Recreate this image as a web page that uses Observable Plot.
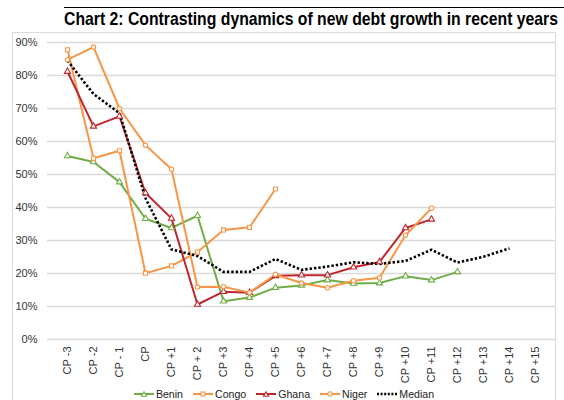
<!DOCTYPE html>
<html>
<head>
<meta charset="utf-8">
<script src="https://cdn.jsdelivr.net/npm/d3@7"></script>
<script src="https://cdn.jsdelivr.net/npm/@observablehq/plot@0.6"></script>
<style>
  html, body { margin: 0; padding: 0; background: #fff; }
  #wrap { position: relative; width: 564px; height: 400px; overflow: hidden; font-family: "Liberation Sans", Arial, sans-serif; }
  #frame { position: absolute; left: 12px; top: 32px; width: 544px; height: 380px; border: 1px solid #d9d9d9; box-sizing: border-box; }
  #rule { position: absolute; left: 64px; top: 7px; right: 0; border-top: 1.5px solid #000; }
  #title { position: absolute; left: 64px; top: 8px; font-family: "Liberation Sans", Arial, sans-serif; font-weight: bold; font-size: 19px; line-height: 21px; color: #000; white-space: nowrap; transform-origin: 0 0; }
  #chart { position: absolute; left: 0; top: 32px; }
  #legend { position: absolute; left: 12px; width: 544px; top: 387px; display: flex; justify-content: center; gap: 10px; font-size: 10.6px; color: #222; line-height: 14px; }
  #legend .item { display: flex; align-items: center; gap: 2px; }
</style>
</head>
<body>
<div id="wrap">
  <div id="frame"></div>
  <div id="rule"></div>
  <div id="title">Chart 2: Contrasting dynamics of new debt growth in recent years</div>
  <div id="chart"></div>
  <div id="legend"></div>
</div>
<script>
const categories = ["CP -3","CP -2","CP - 1","CP","CP +1","CP + 2","CP +3","CP +4","CP +5","CP +6","CP +7","CP +8","CP +9","CP +10","CP +11","CP +12","CP +13","CP +14","CP +15"];
const yTicks = [0,10,20,30,40,50,60,70,80,90];
const benin  = [55.6, 53.8, 47.7, 36.6, 33.8, 37.5, 11.6, 12.7, 15.7, 16.4, 18.0, 17.0, 17.1, 19.2, 18.0, 20.5];
const congo  = [87.8, 54.9, 57.2, 20.1, 22.3, 26.5, 33.2, 34.0, 45.6];
const ghana  = [81.2, 64.6, 67.6, 44.4, 36.7, 10.6, 14.5, 14.2, 19.3, 19.5, 19.5, 21.9, 23.5, 33.8, 36.4];
const niger  = [84.8, 88.6, 70.0, 58.9, 51.6, 15.9, 16.0, 14.2, 19.7, 17.1, 15.7, 17.8, 18.7, 31.6, 39.8];
const median = [84.5, 74.4, 68.6, 42.8, 27.3, 25.3, 20.5, 20.5, 24.4, 21.1, 22.1, 23.4, 22.9, 23.8, 27.2, 23.3, 25.1, 27.6];

const seriesNames = ["Benin","Congo","Ghana","Niger","Median"];
const seriesValues = [benin, congo, ghana, niger, median];
const seriesColors = ["#70ad47","#f79646","#c0262d","#f79646","#000000"];
const seriesSymbols = ["triangle","square","triangle","circle",null];

const series = seriesNames.map((name, i) => ({
  name, color: seriesColors[i], symbol: seriesSymbols[i],
  data: seriesValues[i].map((v, j) => ({cat: categories[j], value: v}))
}));

const marks = [
  Plot.ruleY(yTicks, {stroke: "#d9d9d9", strokeWidth: 1.5})
];
for (const s of series) {
  if (s.symbol) {
    marks.push(Plot.line(s.data, {x: "cat", y: "value", stroke: s.color, strokeWidth: 2}));
  } else {
    marks.push(Plot.line(s.data, {x: "cat", y: "value", stroke: s.color, strokeWidth: 2.6, strokeDasharray: "2.4 2", strokeLinecap: "butt", strokeLinejoin: "miter"}));
  }
}
for (const s of series) {
  if (s.symbol) {
    marks.push(Plot.dot(s.data, {x: "cat", y: "value", symbol: s.symbol, r: s.symbol === "circle" ? 2.2 : 2.3, stroke: s.color, fill: "#fff", strokeWidth: 1.1}));
  }
}

const chart = Plot.plot({
  width: 564,
  height: 360,
  marginLeft: 47,
  marginRight: 9,
  marginTop: 10,
  marginBottom: 53,
  style: {fontFamily: "'Liberation Sans', Arial, sans-serif", fontSize: "11px", color: "#333", background: "transparent"},
  x: {type: "point", domain: categories, padding: 0.5, label: null, tickRotate: -90, tickSize: 0, tickPadding: 7},
  y: {domain: [0, 90], ticks: yTicks, tickFormat: d => d + "%", label: null, tickSize: 0, tickPadding: 10},
  marks
});
document.getElementById("chart").appendChild(chart);

// Condense the title to the reference's width
const title = document.getElementById("title");
const tw = title.getBoundingClientRect().width;
title.style.transform = `scaleX(${494 / tw})`;

const legend = document.getElementById("legend");
for (const s of series) {
  const item = document.createElement("div");
  item.className = "item";
  let sym = "";
  if (s.symbol === "triangle") sym = `<path d="M10,2.8 L12.6,7.2 L7.4,7.2 Z" fill="#fff" stroke="${s.color}" stroke-width="1.1"/>`;
  else if (s.symbol === "square") sym = `<rect x="8" y="3" width="4" height="4" fill="#fff" stroke="${s.color}" stroke-width="1.1"/>`;
  else if (s.symbol === "circle") sym = `<circle cx="10" cy="5" r="2.2" fill="#fff" stroke="${s.color}" stroke-width="1.1"/>`;
  const line = s.symbol
    ? `<line x1="0" y1="5" x2="20" y2="5" stroke="${s.color}" stroke-width="2"/>`
    : `<line x1="0" y1="5" x2="20" y2="5" stroke="${s.color}" stroke-width="2.4" stroke-dasharray="2 1.6"/>`;
  item.innerHTML = `<svg width="20" height="10">${line}${sym}</svg><span>${s.name}</span>`;
  legend.appendChild(item);
}
</script>
</body>
</html>
